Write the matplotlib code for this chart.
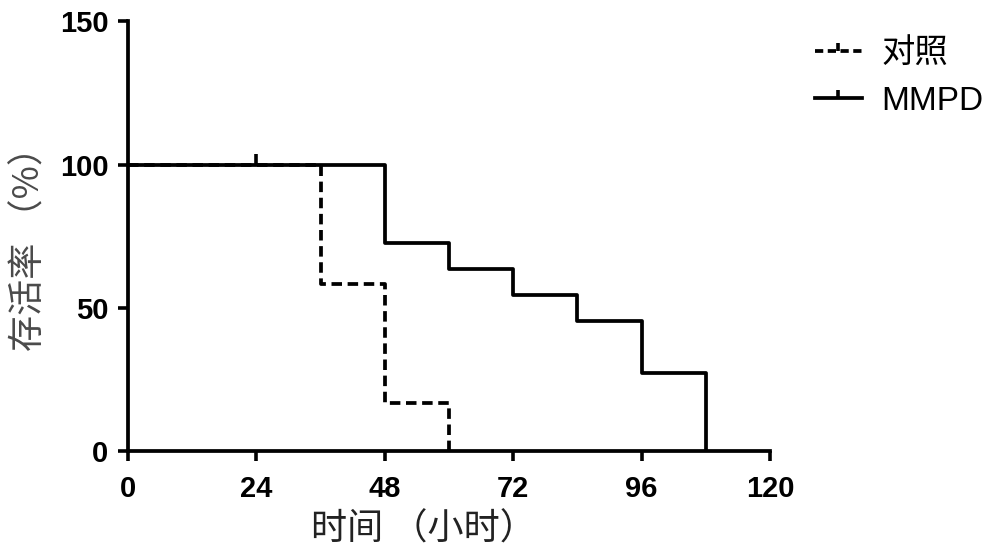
import matplotlib
matplotlib.use('Agg')
import matplotlib.pyplot as plt
from matplotlib.lines import Line2D

plt.rcParams['font.family'] = ['Liberation Sans', 'Noto Sans CJK SC', 'DejaVu Sans']

# survival data (percent), step-wise
ctrl_t = [0, 36, 48, 60]
ctrl_s = [100, 58.3, 16.7, 0]
mmpd_t = [0, 48, 60, 72, 84, 96, 108]
mmpd_s = [100, 72.7, 63.6, 54.5, 45.5, 27.3, 0]
mmpd_censor_t = [24]
mmpd_censor_s = [100]

x_ticks = [0, 24, 48, 72, 96, 120]
y_ticks = [0, 50, 100, 150]
labels = ['对照', 'MMPD']

fig = plt.figure(figsize=(10, 5.57), dpi=100)
ax = fig.add_axes([0.128, 0.19, 0.642, 0.772])

lw = 2.7
ax.step(mmpd_t, mmpd_s, where='post', color='black', lw=lw, solid_capstyle='butt')
ax.step(ctrl_t, ctrl_s, where='post', color='black', lw=lw, dashes=(2.8, 1.5))
ax.plot(mmpd_censor_t, mmpd_censor_s, ls='none', marker=2, ms=8, mew=2.6, color='black')

ax.set_xlim(0, 120)
ax.set_ylim(0, 150)
ax.set_xticks(x_ticks)
ax.set_yticks(y_ticks)
for s in ['top', 'right']:
    ax.spines[s].set_visible(False)
for s in ['left', 'bottom']:
    ax.spines[s].set_linewidth(2.7)
ax.tick_params(width=2.6, length=7, labelsize=21, pad=7)
ax.tick_params(axis='x', pad=10)
for lab in ax.get_xticklabels() + ax.get_yticklabels():
    lab.set_fontweight('bold')

cjk = ['Noto Sans CJK SC', 'DejaVu Sans']
ax.set_xlabel('时间 （小时）', fontsize=26, color='#222222', family=cjk, va='center')
ax.xaxis.set_label_coords(0.46, -0.182)
ax.set_ylabel('存活率 （%）', fontsize=26, color='#4a4a4a', family=cjk, va='center')
ax.yaxis.set_label_coords(-0.153, 0.49)

handles = [
    Line2D([], [], color='black', lw=lw, dashes=(2.2, 1.2), marker=2, ms=6, mew=2.6),
    Line2D([], [], color='black', lw=lw, marker=2, ms=6, mew=2.6),
]
leg = fig.legend(handles, labels, loc='upper left', bbox_to_anchor=(0.815, 0.93),
                 frameon=False, fontsize=24, handlelength=1.4, handletextpad=0.6,
                 labelspacing=0.48, borderpad=0, borderaxespad=0)
for t in leg.get_texts():
    t.set_family(['Liberation Sans', 'Noto Sans CJK SC', 'DejaVu Sans'])

fig.savefig('out.png', dpi=100)
